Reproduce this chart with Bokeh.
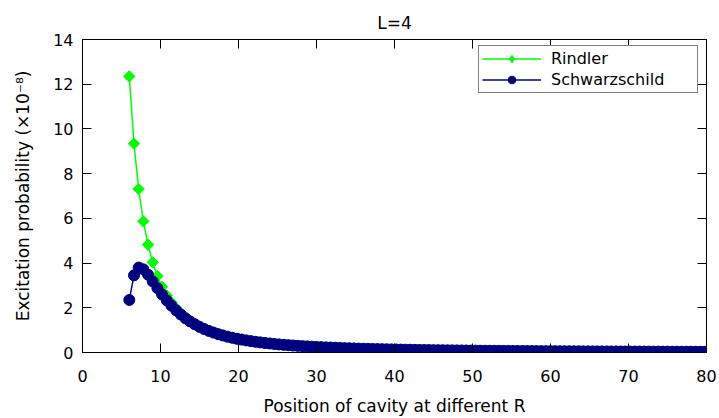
import numpy as np
from bokeh.plotting import figure
from bokeh.models import LinearAxis, FixedTicker, Range1d, Legend, LegendItem
from bokeh.embed import file_html
from bokeh.resources import INLINE

# Cavity positions: uniform grid starting at R = 6 with spacing 0.6
R_START = 6.0
R_STEP = 0.6

# Excitation probability (units of 1e-8), Rindler detector
rindler = [
    12.35, 9.34, 7.31, 5.87, 4.82, 4.03, 3.42, 2.94, 2.55, 2.24,
    1.976, 1.759, 1.575, 1.419, 1.285, 1.169, 1.068, 0.980, 0.902, 0.833,
    0.772, 0.717, 0.668, 0.624, 0.584, 0.547, 0.514, 0.484, 0.457, 0.431,
    0.408, 0.387, 0.367, 0.349, 0.332, 0.316, 0.302, 0.288, 0.275, 0.263,
    0.252, 0.242, 0.232, 0.223, 0.214, 0.206, 0.198, 0.191, 0.184, 0.177,
    0.171, 0.165, 0.159, 0.154, 0.149, 0.144, 0.140, 0.135, 0.131, 0.127,
    0.124, 0.120, 0.116, 0.113, 0.110, 0.107, 0.104, 0.101, 0.098, 0.096,
    0.093, 0.091, 0.089, 0.086, 0.084, 0.082, 0.080, 0.078, 0.077, 0.075,
    0.073, 0.071, 0.070, 0.068, 0.067, 0.065, 0.064, 0.063, 0.061, 0.060,
    0.059, 0.058, 0.056, 0.055, 0.054, 0.053, 0.052, 0.051, 0.050, 0.049,
    0.048, 0.047, 0.046, 0.046, 0.045, 0.044, 0.043, 0.042, 0.042, 0.041,
    0.040, 0.040, 0.039, 0.038, 0.038, 0.037, 0.036, 0.036, 0.035, 0.035,
    0.034, 0.034, 0.033, 0.033,
]

# Excitation probability (units of 1e-8), Schwarzschild detector
schwarzschild = [
    2.35, 3.45, 3.80, 3.72, 3.48, 3.18, 2.88, 2.60, 2.33, 2.10,
    1.89, 1.70, 1.53, 1.39, 1.26, 1.15, 1.05, 0.965, 0.89, 0.82,
    0.76, 0.706, 0.658, 0.615, 0.576, 0.540, 0.507, 0.478, 0.451, 0.426,
    0.403, 0.381, 0.361, 0.344, 0.327, 0.311, 0.297, 0.284, 0.271, 0.259,
    0.248, 0.238, 0.229, 0.220, 0.211, 0.203, 0.195, 0.188, 0.181, 0.174,
    0.168, 0.163, 0.157, 0.152, 0.147, 0.142, 0.138, 0.133, 0.129, 0.125,
    0.122, 0.118, 0.114, 0.111, 0.108, 0.105, 0.102, 0.099, 0.097, 0.095,
    0.092, 0.090, 0.088, 0.085, 0.083, 0.081, 0.079, 0.077, 0.076, 0.074,
    0.072, 0.070, 0.069, 0.067, 0.066, 0.064, 0.063, 0.062, 0.060, 0.059,
    0.058, 0.057, 0.055, 0.054, 0.053, 0.052, 0.051, 0.050, 0.049, 0.048,
    0.047, 0.046, 0.045, 0.045, 0.044, 0.043, 0.042, 0.041, 0.041, 0.040,
    0.039, 0.039, 0.038, 0.037, 0.037, 0.036, 0.035, 0.035, 0.034, 0.034,
    0.033, 0.033, 0.032, 0.032,
]

positions = np.round(R_START + R_STEP * np.arange(len(rindler)), 2)

x_ticks = [0, 10, 20, 30, 40, 50, 60, 70, 80]
y_ticks = [0, 2, 4, 6, 8, 10, 12, 14]

FONT = "DejaVu Sans"
GREEN = "#00ff00"
NAVY = "#000080"

p = figure(
    frame_width=624, frame_height=313,
    x_range=Range1d(0, 80), y_range=Range1d(0, 14),
    output_backend="svg", toolbar_location=None,
    title="L=4",
    min_border_left=82, min_border_right=13,
    min_border_top=39, min_border_bottom=66,
)
p.background_fill_color = "white"
p.border_fill_color = "white"
p.outline_line_color = "black"
p.outline_line_width = 1
p.xgrid.visible = False
p.ygrid.visible = False

p.title.align = "center"
p.title.text_font = FONT
p.title.text_font_size = "17px"
p.title.text_font_style = "normal"
p.title.text_color = "black"
p.title.standoff = 14

def style_axis(ax, ticks, show_labels):
    ax.ticker = FixedTicker(ticks=ticks)
    ax.major_tick_in = 9
    ax.major_tick_out = 0
    ax.minor_tick_line_color = None
    ax.major_tick_line_color = "black"
    ax.axis_line_color = "black"
    ax.major_label_text_font = FONT
    ax.major_label_text_color = "black"
    if show_labels:
        ax.major_label_text_font_size = "16px"
    else:
        ax.major_label_overrides = {t: "" for t in ticks}
        ax.major_label_text_font_size = "0px"
        ax.major_label_standoff = 0

style_axis(p.xaxis[0], x_ticks, True)
style_axis(p.yaxis[0], y_ticks, True)
p.xaxis.major_label_standoff = 17
p.yaxis.major_label_standoff = 9

p.xaxis.axis_label = "Position of cavity at different R"
p.yaxis.axis_label = "Excitation probability (×10⁻⁸)"
for ax in (p.xaxis[0], p.yaxis[0]):
    ax.axis_label_text_font = FONT
    ax.axis_label_text_font_size = "17px"
    ax.axis_label_text_font_style = "normal"
    ax.axis_label_text_color = "black"
p.xaxis.axis_label_standoff = 11
p.yaxis.axis_label_standoff = 17

# mirrored tick marks on the top and right edges of the frame
top_axis = LinearAxis()
style_axis(top_axis, x_ticks, False)
p.add_layout(top_axis, "above")
right_axis = LinearAxis()
style_axis(right_axis, y_ticks, False)
p.add_layout(right_axis, "right")

r_line = p.line(positions, rindler, color=GREEN, line_width=1.5)
p.scatter(positions, rindler, marker="square", size=8, angle=np.pi / 4, color=GREEN)
s_line = p.line(positions, schwarzschild, color=NAVY, line_width=1.5)
s_pts = p.scatter(positions, schwarzschild, marker="circle", size=11, color=NAVY)

# diamond key for the legend (the plotted points are rotated squares)
r_key = p.scatter(positions, rindler, marker="diamond", size=12, color=GREEN, visible=False)

leg = Legend(
    items=[
        LegendItem(label="Rindler", renderers=[r_line, r_key]),
        LegendItem(label="Schwarzschild", renderers=[s_line, s_pts]),
    ],
    location=(396, 259),
)
leg.margin = 0
leg.padding = 3
leg.spacing = 2
leg.glyph_width = 59
leg.glyph_height = 19
leg.label_height = 19
leg.label_width = 143
leg.label_standoff = 10
leg.label_text_font = FONT
leg.label_text_font_size = "16px"
leg.label_text_color = "black"
leg.border_line_color = "black"
leg.border_line_width = 1
leg.background_fill_color = "white"
leg.background_fill_alpha = 1
p.add_layout(leg)

open("out.html", "w").write(file_html(p, INLINE))
